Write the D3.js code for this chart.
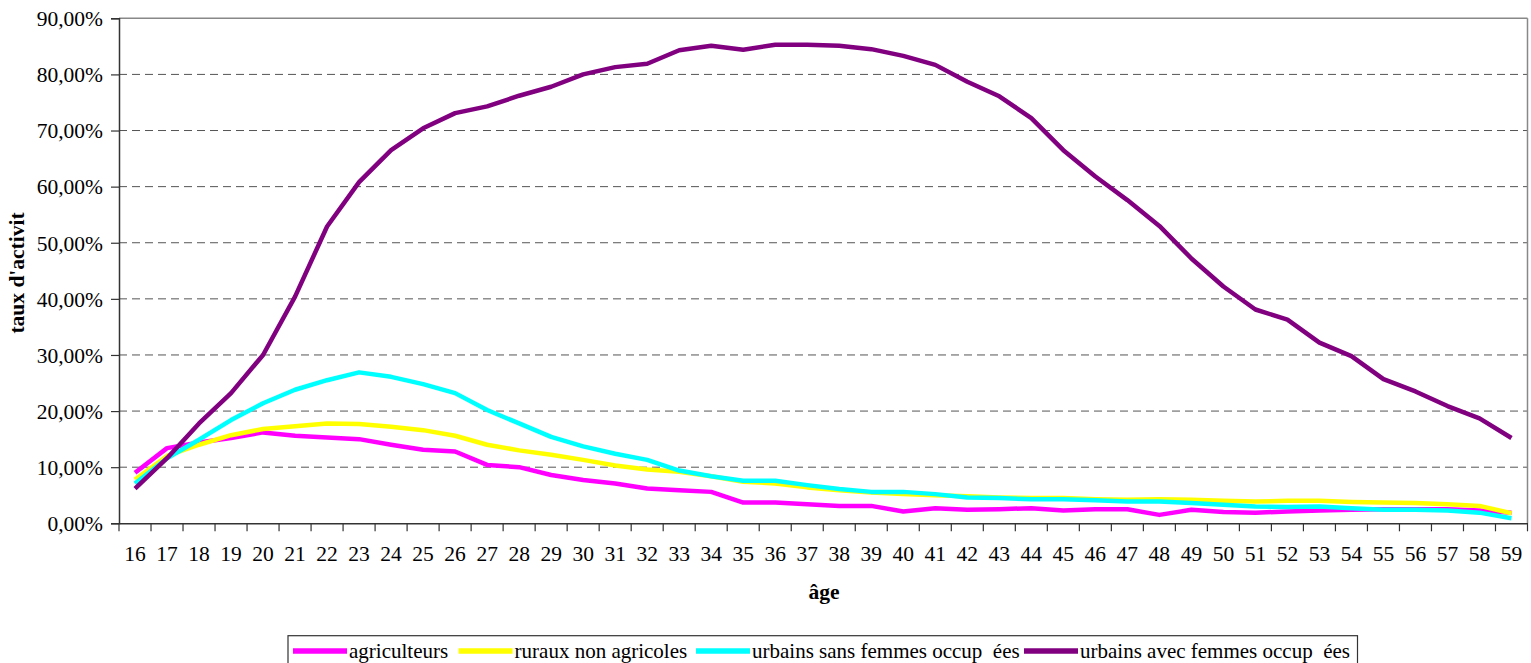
<!DOCTYPE html>
<html><head><meta charset="utf-8">
<script src="https://cdn.jsdelivr.net/npm/d3@7"></script>
<style>
html,body{margin:0;padding:0;background:#fff;overflow:hidden;}
text{font-family:"Liberation Serif","Times New Roman",serif;fill:#000;}
</style></head>
<body>
<svg id="chart" width="1531" height="663"></svg>
<script>
const ages = d3.range(16, 60);
const yTicks = [0, 0.1, 0.2, 0.3, 0.4, 0.5, 0.6, 0.7, 0.8, 0.9];
const seriesNames = ["agriculteurs", "ruraux non agricoles", "urbains sans femmes occup  ées", "urbains avec femmes occup  ées"];
const seriesColors = ["#FF00FF", "#FFFF00", "#00FFFF", "#800080"];
// values in %, ages 16..59
const agriculteurs = [9.0,13.4,14.4,15.2,16.2,15.6,15.3,15.0,14.0,13.1,12.8,10.4,10.0,8.6,7.7,7.1,
  6.2,5.9,5.6,3.7,3.7,3.4,3.1,3.1,2.1,2.7,2.4,2.5,2.7,2.3,2.5,2.5,1.5,2.4,2.0,1.9,2.1,2.3,2.4,2.5,2.5,2.5,2.3,1.9];
const rurauxNonAgricoles = [7.8,12.0,14.0,15.7,16.8,17.3,17.8,17.7,17.2,16.6,15.6,14.0,13.0,12.2,11.3,10.3,
  9.6,9.2,8.4,7.4,7.1,6.4,5.9,5.5,5.2,5.0,4.8,4.6,4.5,4.5,4.3,4.2,4.3,4.2,4.0,3.9,4.0,4.0,3.8,3.7,3.6,3.4,3.1,1.8];
const urbainsSansFemmes = [7.1,11.6,14.9,18.4,21.4,23.8,25.5,26.9,26.1,24.8,23.2,20.2,17.8,15.4,13.7,12.4,
  11.3,9.4,8.4,7.6,7.6,6.8,6.1,5.6,5.6,5.2,4.6,4.5,4.3,4.3,4.1,3.9,3.9,3.6,3.3,3.0,2.9,3.0,2.7,2.4,2.4,2.3,1.9,0.9];
const urbainsAvecFemmes = [6.2,11.6,17.8,23.2,30.0,40.4,52.9,60.8,66.5,70.4,73.1,74.3,76.2,77.8,80.0,81.3,
  81.9,84.3,85.1,84.4,85.3,85.3,85.1,84.5,83.3,81.7,78.7,76.1,72.2,66.5,61.8,57.6,53.0,47.2,42.2,38.1,36.3,32.2,29.8,25.7,23.5,20.9,18.7,15.2];
const seriesValues = [agriculteurs, rurauxNonAgricoles, urbainsSansFemmes, urbainsAvecFemmes];

const svg = d3.select("#chart");
const L = 119, R = 1527.5, T = 18.3, B = 523.3;
const x = d3.scaleBand().domain(ages).range([L, R]).paddingInner(0).paddingOuter(0);
const y = d3.scaleLinear().domain([0, 0.9]).range([B, T]);
const fmt = v => d3.format(".2f")(v * 100).replace(".", ",") + "%";

// gridlines
svg.append("g").selectAll("line").data(yTicks.filter(v => v > 0 && v < 0.9)).join("line")
  .attr("x1", L).attr("x2", R).attr("y1", d => y(d)).attr("y2", d => y(d))
  .attr("stroke", "#555").attr("stroke-width", 1).attr("stroke-dasharray", "8,5");
// plot border top/right
svg.append("line").attr("x1", L).attr("x2", R).attr("y1", y(0.9)).attr("y2", y(0.9))
  .attr("stroke", "#888").attr("stroke-width", 1.5);
svg.append("line").attr("x1", R).attr("x2", R).attr("y1", T).attr("y2", B)
  .attr("stroke", "#888").attr("stroke-width", 1.5);

// y axis
const yAxis = d3.axisLeft(y).tickValues(yTicks).tickFormat(fmt).tickSize(8).tickPadding(8);
const gy = svg.append("g").attr("transform", `translate(${L},0)`).call(yAxis);
gy.select(".domain").attr("stroke", "#333").attr("stroke-width", 1.5);
gy.selectAll(".tick line").attr("stroke", "#333").attr("stroke-width", 1.2);
gy.selectAll(".tick text").attr("font-size", "21.5px").attr("font-family", "Liberation Serif").attr("dy", "0.34em").attr("fill", "#000");

// x axis
const xAxis = d3.axisBottom(x).tickSize(0).tickPadding(0);
const gx = svg.append("g").attr("transform", `translate(0,${B})`).call(xAxis);
gx.select(".domain").attr("stroke", "#333").attr("stroke-width", 1.5);
gx.selectAll(".tick text").attr("font-size", "21.5px").attr("font-family", "Liberation Serif").attr("y", 38).attr("dy", 0).attr("fill", "#000");
// x tick marks at band boundaries
svg.append("g").selectAll("line").data(ages.concat([60])).join("line")
  .attr("x1", d => d === 60 ? R : x(d)).attr("x2", d => d === 60 ? R : x(d))
  .attr("y1", B).attr("y2", B + 8).attr("stroke", "#333").attr("stroke-width", 1.2);

// lines
const line = d3.line().x((d, i) => x(ages[i]) + x.bandwidth() / 2).y(d => y(d / 100));
svg.append("g").selectAll("path").data(seriesValues).join("path")
  .attr("d", d => line(d)).attr("fill", "none")
  .attr("stroke", (d, i) => seriesColors[i]).attr("stroke-width", 4.5)
  .attr("stroke-linejoin", "round");

// axis titles
svg.append("text").attr("transform", "translate(24,273) rotate(-90)")
  .attr("text-anchor", "middle").attr("font-size", "21.5px").attr("font-weight", "bold")
  .text("taux d'activit");
svg.append("text").attr("x", 824).attr("y", 599).attr("text-anchor", "middle")
  .attr("font-size", "21.5px").attr("font-weight", "bold").text("âge");

// legend
const legX0 = 288, legX1 = 1357.5, legT = 635.7;
svg.append("defs").append("clipPath").attr("id", "legclip")
  .append("rect").attr("x", legX0).attr("y", legT).attr("width", legX1 - legX0).attr("height", 40);
svg.append("rect").attr("x", legX0).attr("y", legT).attr("width", legX1 - legX0).attr("height", 40)
  .attr("fill", "#fff").attr("stroke", "#333").attr("stroke-width", 1.2);
const itemX = [293, 458.6, 696, 1024];
const lg = svg.append("g").attr("clip-path", "url(#legclip)");
seriesNames.forEach((name, i) => {
  lg.append("line").attr("x1", itemX[i]).attr("x2", itemX[i] + 54).attr("y1", 651).attr("y2", 651)
    .attr("stroke", seriesColors[i]).attr("stroke-width", 5.5);
});
seriesNames.forEach((name, i) => {
  lg.append("text").attr("x", itemX[i] + 56).attr("y", 658).attr("font-size", "21px")
    .attr("xml:space", "preserve").style("white-space", "pre").text(name);
});
</script>
</body></html>
